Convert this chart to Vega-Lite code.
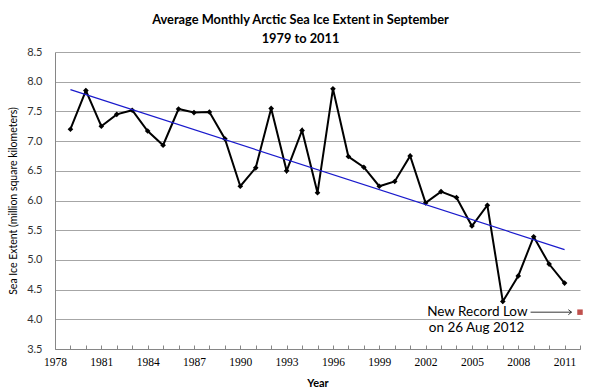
{
  "$schema": "https://vega.github.io/schema/vega-lite/v6.json",
  "width": 525,
  "height": 297,
  "autosize": "none",
  "padding": {"left": 55, "top": 52, "right": 20, "bottom": 43},
  "background": "white",
  "title": {
    "text": ["Average Monthly Arctic Sea Ice Extent in September", "1979 to 2011"],
    "font": "Lato",
    "fontSize": 12.8,
    "fontWeight": "bold",
    "color": "#000000",
    "anchor": "middle",
    "dx": -17,
    "offset": 0,
    "lineHeight": 19
  },
  "config": {"view": {"stroke": null}},
  "datasets": {
    "ice": [
      {"year": 1979, "extent": 7.20}, {"year": 1980, "extent": 7.85}, {"year": 1981, "extent": 7.25},
      {"year": 1982, "extent": 7.45}, {"year": 1983, "extent": 7.52}, {"year": 1984, "extent": 7.17},
      {"year": 1985, "extent": 6.93}, {"year": 1986, "extent": 7.54}, {"year": 1987, "extent": 7.48},
      {"year": 1988, "extent": 7.49}, {"year": 1989, "extent": 7.04}, {"year": 1990, "extent": 6.24},
      {"year": 1991, "extent": 6.55}, {"year": 1992, "extent": 7.55}, {"year": 1993, "extent": 6.50},
      {"year": 1994, "extent": 7.18}, {"year": 1995, "extent": 6.13}, {"year": 1996, "extent": 7.88},
      {"year": 1997, "extent": 6.74}, {"year": 1998, "extent": 6.56}, {"year": 1999, "extent": 6.24},
      {"year": 2000, "extent": 6.32}, {"year": 2001, "extent": 6.75}, {"year": 2002, "extent": 5.96},
      {"year": 2003, "extent": 6.15}, {"year": 2004, "extent": 6.05}, {"year": 2005, "extent": 5.57},
      {"year": 2006, "extent": 5.92}, {"year": 2007, "extent": 4.30}, {"year": 2008, "extent": 4.73},
      {"year": 2009, "extent": 5.39}, {"year": 2010, "extent": 4.93}, {"year": 2011, "extent": 4.61}
    ],
    "record": [{"year": 2012, "extent": 4.12}],
    "arrow": [{"start": 2008.8, "end": 2011.45, "extent": 4.12}],
    "note1": [{"year": 2008.6, "extent": 4.12, "label": "New Record Low"}],
    "note2": [{"year": 2005.3, "extent": 3.86, "label": "on 26 Aug 2012"}]
  },
  "layer": [
    {
      "data": {"name": "ice"},
      "mark": {
        "type": "line",
        "color": "#000000",
        "strokeWidth": 2,
        "point": {"shape": "diamond", "size": 32, "filled": true, "color": "#000000"}
      },
      "encoding": {
        "x": {
          "field": "year",
          "type": "quantitative",
          "scale": {"domain": [1978, 2012], "nice": false, "zero": false},
          "axis": {
            "title": "Year",
            "titleFont": "Lato",
            "titleFontSize": 11,
            "titleFontWeight": "bold",
            "titleColor": "#000000",
            "titlePadding": 10,
            "values": [1978,1979,1980,1981,1982,1983,1984,1985,1986,1987,1988,1989,1990,1991,1992,1993,1994,1995,1996,1997,1998,1999,2000,2001,2002,2003,2004,2005,2006,2007,2008,2009,2010,2011,2012],
            "tickCount": 100,
            "labelExpr": "(datum.value - 1978) % 3 == 0 ? datum.value : ''",
            "labelFont": "Liberation Serif",
            "labelFontSize": 11.5,
            "labelColor": "#000000",
            "labelPadding": 11,
            "labelFlush": false,
            "labelOverlap": false,
            "grid": false,
            "domainColor": "#868686",
            "tickColor": "#868686",
            "tickSize": -4
          }
        },
        "y": {
          "field": "extent",
          "type": "quantitative",
          "scale": {"domain": [3.5, 8.5], "nice": false, "zero": false},
          "axis": {
            "title": "Sea Ice Extent (million square kilometers)",
            "titleFont": "Lato",
            "titleFontSize": 10.5,
            "titleFontWeight": "normal",
            "titleColor": "#000000",
            "titlePadding": 8,
            "values": [3.5, 4, 4.5, 5, 5.5, 6, 6.5, 7, 7.5, 8, 8.5],
            "tickCount": 100,
            "format": ".1f",
            "labelFont": "Lato",
            "labelFontSize": 11,
            "labelColor": "#333333",
            "labelPadding": 13,
            "labelOverlap": false,
            "ticks": false,
            "grid": true,
            "gridColor": "#a6a6a6",
            "domainColor": "#868686"
          }
        }
      }
    },
    {
      "data": {"name": "ice"},
      "transform": [{"regression": "extent", "on": "year", "extent": [1979, 2011]}],
      "mark": {"type": "line", "color": "#1a1acc", "strokeWidth": 1.2},
      "encoding": {
        "x": {"field": "year", "type": "quantitative"},
        "y": {"field": "extent", "type": "quantitative"}
      }
    },
    {
      "data": {"name": "record"},
      "mark": {"type": "square", "filled": true, "color": "#c0504d", "size": 30, "opacity": 1},
      "encoding": {
        "x": {"field": "year", "type": "quantitative"},
        "y": {"field": "extent", "type": "quantitative"}
      }
    },
    {
      "data": {"name": "arrow"},
      "mark": {"type": "rule", "color": "#000000", "strokeWidth": 0.8},
      "encoding": {
        "x": {"field": "start", "type": "quantitative"},
        "x2": {"field": "end"},
        "y": {"field": "extent", "type": "quantitative"}
      }
    },
    {
      "data": {"name": "arrow"},
      "mark": {"type": "point", "shape": "M-1,-0.8L0,0L-1,0.8", "filled": false, "stroke": "#000000", "strokeWidth": 0.8, "size": 40, "opacity": 1},
      "encoding": {
        "x": {"field": "end", "type": "quantitative"},
        "y": {"field": "extent", "type": "quantitative"}
      }
    },
    {
      "data": {"name": "note1"},
      "mark": {"type": "text", "align": "right", "baseline": "middle", "font": "Lato", "fontSize": 13.5, "color": "#000000"},
      "encoding": {
        "x": {"field": "year", "type": "quantitative"},
        "y": {"field": "extent", "type": "quantitative"},
        "text": {"field": "label"}
      }
    },
    {
      "data": {"name": "note2"},
      "mark": {"type": "text", "align": "center", "baseline": "middle", "font": "Lato", "fontSize": 13.5, "color": "#000000"},
      "encoding": {
        "x": {"field": "year", "type": "quantitative"},
        "y": {"field": "extent", "type": "quantitative"},
        "text": {"field": "label"}
      }
    }
  ]
}
